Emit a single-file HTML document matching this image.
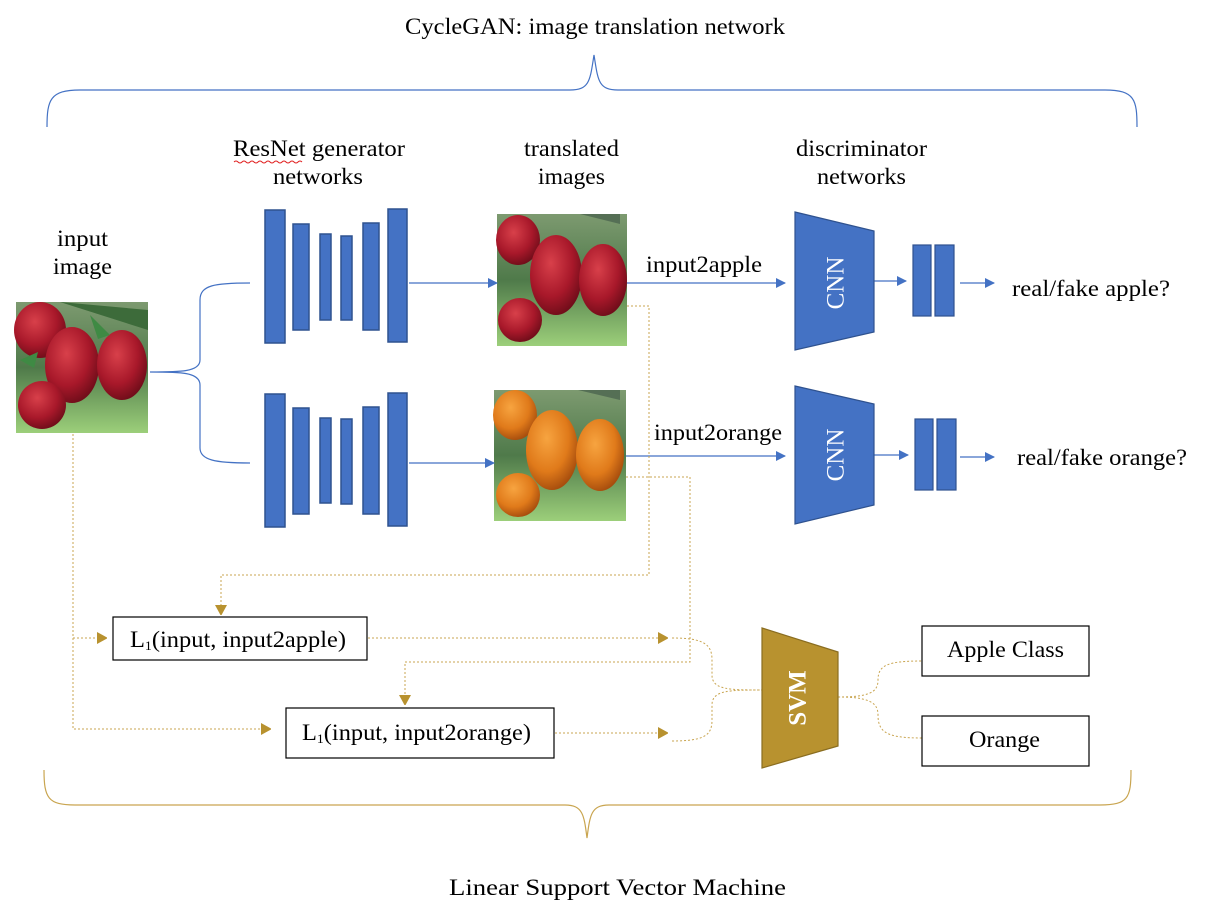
<!DOCTYPE html>
<html><head><meta charset="utf-8"><style>
html,body{margin:0;padding:0;background:#fff;}
svg text{font-family:"Liberation Serif",serif;fill:#000;}
</style></head><body>
<svg width="1210" height="906" viewBox="0 0 1210 906" xmlns="http://www.w3.org/2000/svg">
<defs>
<marker id="ab" markerWidth="10" markerHeight="10" refX="9" refY="5" orient="auto" markerUnits="userSpaceOnUse"><path d="M0,0 L10,5 L0,10 z" fill="#4472c4"/></marker>
<marker id="ag" markerWidth="10" markerHeight="12" refX="9" refY="6" orient="auto" markerUnits="userSpaceOnUse"><path d="M0,0 L11,6 L0,12 z" fill="#b8922f"/></marker>
<radialGradient id="red" cx="0.4" cy="0.35" r="0.7"><stop offset="0" stop-color="#d8404a"/><stop offset="0.6" stop-color="#a8182a"/><stop offset="1" stop-color="#6a0c18"/></radialGradient>
<radialGradient id="org" cx="0.4" cy="0.35" r="0.7"><stop offset="0" stop-color="#f7a440"/><stop offset="0.6" stop-color="#e07a1a"/><stop offset="1" stop-color="#a0480c"/></radialGradient>
<linearGradient id="bg" x1="0" y1="0" x2="0" y2="1"><stop offset="0" stop-color="#7d9a70"/><stop offset="0.5" stop-color="#4f7a4a"/><stop offset="1" stop-color="#9ccf7a"/></linearGradient>
</defs>

<text x="405" y="34" font-size="23" textLength="380" lengthAdjust="spacingAndGlyphs">CycleGAN: image translation network</text>
<path d="M47,127 C47,100 50,90 80,90 L570,90 C590,90 590,80 594,55 C598,80 598,90 618,90 L1105,90 C1135,90 1137,100 1137,127" fill="none" stroke="#4472c4" stroke-width="1.2"/>

<text x="233" y="156" font-size="23" textLength="172" lengthAdjust="spacingAndGlyphs">ResNet generator</text>
<path d="M234,162 q2,-2 4,0 t4,0 t4,0 t4,0 t4,0 t4,0 t4,0 t4,0 t4,0 t4,0 t4,0 t4,0 t4,0 t4,0 t4,0 t4,0 t4,0" fill="none" stroke="#e02020" stroke-width="1"/>
<text x="273" y="184" font-size="23" textLength="90" lengthAdjust="spacingAndGlyphs">networks</text>
<text x="524" y="156" font-size="23" textLength="95" lengthAdjust="spacingAndGlyphs">translated</text>
<text x="538" y="184" font-size="23" textLength="67" lengthAdjust="spacingAndGlyphs">images</text>
<text x="796" y="156" font-size="23" textLength="131" lengthAdjust="spacingAndGlyphs">discriminator</text>
<text x="817" y="184" font-size="23" textLength="89" lengthAdjust="spacingAndGlyphs">networks</text>
<text x="57" y="246" font-size="23" textLength="51" lengthAdjust="spacingAndGlyphs">input</text>
<text x="53" y="274" font-size="23" textLength="59" lengthAdjust="spacingAndGlyphs">image</text>

<g>
<rect x="16" y="302" width="132" height="131" fill="url(#bg)"/>
<path d="M60,302 L148,330 L148,310 Z" fill="#3d6b3a"/>
<ellipse cx="40" cy="330" rx="26" ry="28" fill="url(#red)"/>
<ellipse cx="72" cy="365" rx="27" ry="38" fill="url(#red)"/>
<ellipse cx="122" cy="365" rx="25" ry="35" fill="url(#red)"/>
<ellipse cx="42" cy="405" rx="24" ry="24" fill="url(#red)"/>
<path d="M90,315 l20,20 l-12,4 z M20,360 l18,-8 l-4,16 z" fill="#3f8a44"/>
</g>
<g>
<rect x="497" y="214" width="130" height="132" fill="url(#bg)"/>
<ellipse cx="518" cy="240" rx="22" ry="25" fill="url(#red)"/>
<ellipse cx="556" cy="275" rx="26" ry="40" fill="url(#red)"/>
<ellipse cx="603" cy="280" rx="24" ry="36" fill="url(#red)"/>
<ellipse cx="520" cy="320" rx="22" ry="22" fill="url(#red)"/>
<path d="M580,214 l40,10 l0,-10 z" fill="#556f55"/>
</g>
<g>
<rect x="494" y="390" width="132" height="131" fill="url(#bg)"/>
<ellipse cx="515" cy="415" rx="22" ry="25" fill="url(#org)"/>
<ellipse cx="552" cy="450" rx="26" ry="40" fill="url(#org)"/>
<ellipse cx="600" cy="455" rx="24" ry="36" fill="url(#org)"/>
<ellipse cx="518" cy="495" rx="22" ry="22" fill="url(#org)"/>
<path d="M578,390 l42,10 l0,-10 z" fill="#556f55"/>
</g>

<path d="M150,372 C180,372 200,372 200,360 L200,300 C200,285 215,283 250,283 M150,372 C180,372 200,372 200,385 L200,448 C200,460 215,463 250,463" fill="none" stroke="#4472c4" stroke-width="1.2"/>

<g fill="#4472c4" stroke="#2f528f" stroke-width="1.5">
<rect x="265" y="210" width="20" height="133"/><rect x="293" y="224" width="16" height="106"/><rect x="320" y="234" width="11" height="86"/><rect x="341" y="236" width="11" height="84"/><rect x="363" y="223" width="16" height="107"/><rect x="388" y="209" width="19" height="133"/>
<rect x="265" y="394" width="20" height="133"/><rect x="293" y="408" width="16" height="106"/><rect x="320" y="418" width="11" height="85"/><rect x="341" y="419" width="11" height="85"/><rect x="363" y="407" width="16" height="107"/><rect x="388" y="393" width="19" height="133"/>
</g>
<g stroke="#4472c4" stroke-width="1.2" fill="none" marker-end="url(#ab)">
<line x1="409" y1="283" x2="497" y2="283"/>
<line x1="409" y1="463" x2="494" y2="463"/>
<line x1="627" y1="283" x2="785" y2="283"/>
<line x1="626" y1="456" x2="785" y2="456"/>
<line x1="874" y1="281" x2="906" y2="281"/>
<line x1="874" y1="455" x2="908" y2="455"/>
<line x1="960" y1="283" x2="994" y2="283"/>
<line x1="960" y1="457" x2="994" y2="457"/>
</g>
<text x="646" y="272" font-size="23" textLength="116" lengthAdjust="spacingAndGlyphs">input2apple</text>
<text x="654" y="440" font-size="23" textLength="128" lengthAdjust="spacingAndGlyphs">input2orange</text>

<g fill="#4472c4" stroke="#2f528f" stroke-width="1.2">
<path d="M795,212 L874,231 L874,332 L795,350 Z"/>
<path d="M795,386 L874,404 L874,505 L795,524 Z"/>
<rect x="913" y="245" width="18" height="71"/><rect x="935" y="245" width="19" height="71"/>
<rect x="915" y="419" width="18" height="71"/><rect x="937" y="419" width="19" height="71"/>
</g>
<text transform="translate(838,283) rotate(-90)" font-size="25" text-anchor="middle" dominant-baseline="middle" style="fill:#fff">CNN</text>
<text transform="translate(838,455) rotate(-90)" font-size="25" text-anchor="middle" dominant-baseline="middle" style="fill:#fff">CNN</text>
<text x="1012" y="296" font-size="23" textLength="158" lengthAdjust="spacingAndGlyphs">real/fake apple?</text>
<text x="1017" y="465" font-size="23" textLength="170" lengthAdjust="spacingAndGlyphs">real/fake orange?</text>

<g stroke="#c9a550" stroke-width="1" stroke-dasharray="2,2" fill="none">
<path d="M73,434 L73,729 L270,729" marker-end="url(#ag)"/>
<path d="M73,638 L106,638" marker-end="url(#ag)"/>
<path d="M627,306 L649,306 L649,575 L221,575 L221,614" marker-end="url(#ag)"/>
<path d="M626,477 L690,477 L690,662 L405,662 L405,704" marker-end="url(#ag)"/>
<path d="M368,638 L667,638" marker-end="url(#ag)"/>
<path d="M555,733 L667,733" marker-end="url(#ag)"/>
<path d="M672,638 C705,638 712,645 712,660 L712,675 C712,690 730,690 762,690"/>
<path d="M672,741 C705,741 712,735 712,720 L712,705 C712,690 730,690 762,690"/>
<path d="M838,697 C870,697 878,692 878,680 C878,665 888,661 922,661"/>
<path d="M838,697 C870,697 878,703 878,715 C878,733 888,738 922,738"/>
</g>
<path d="M762,628 L838,652 L838,746 L762,768 Z" fill="#b8922f" stroke="#8a6d20" stroke-width="1.2"/>
<text transform="translate(800,698) rotate(-90)" font-size="25" font-weight="bold" text-anchor="middle" dominant-baseline="middle" style="fill:#fff">SVM</text>

<g fill="#fff" stroke="#000" stroke-width="1.2">
<rect x="113" y="617" width="254" height="43"/>
<rect x="286" y="708" width="268" height="50"/>
<rect x="922" y="626" width="167" height="50"/>
<rect x="922" y="716" width="167" height="50"/>
</g>
<text x="130" y="647" font-size="23" textLength="216" lengthAdjust="spacingAndGlyphs">L<tspan font-size="13" dy="3">1</tspan><tspan dy="-3">(input, input2apple)</tspan></text>
<text x="302" y="740" font-size="23" textLength="229" lengthAdjust="spacingAndGlyphs">L<tspan font-size="13" dy="3">1</tspan><tspan dy="-3">(input, input2orange)</tspan></text>
<text x="947" y="657" font-size="23" textLength="117" lengthAdjust="spacingAndGlyphs">Apple Class</text>
<text x="969" y="747" font-size="23" textLength="71" lengthAdjust="spacingAndGlyphs">Orange</text>

<path d="M44,770 C44,798 48,805 75,805 L565,805 C583,805 584,815 587,838 C590,815 591,805 609,805 L1100,805 C1128,805 1131,798 1131,770" fill="none" stroke="#c9a550" stroke-width="1.2"/>
<text x="449" y="895" font-size="23" textLength="337" lengthAdjust="spacingAndGlyphs">Linear Support Vector Machine</text>
</svg>
</body></html>
